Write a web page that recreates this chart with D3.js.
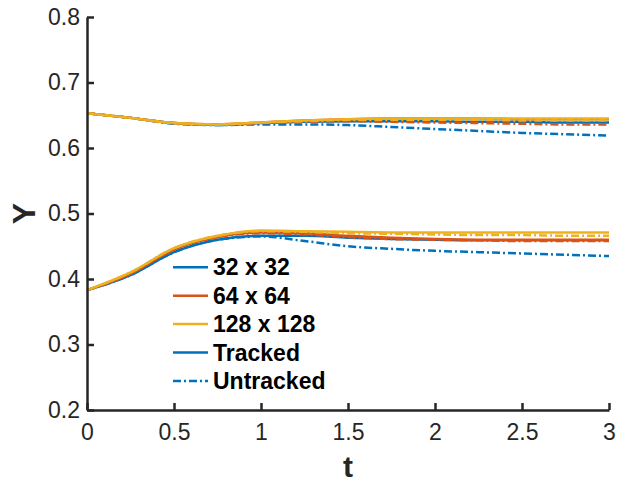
<!DOCTYPE html>
<html>
<head>
	<script type="text/javascript" src="https://cdn.jsdelivr.net/npm/d3@7/dist/d3.min.js"></script>
	<style type="text/css">
		body { margin: 0; background: #fff; }
		text { font-family: "Liberation Sans", Arial, Helvetica, sans-serif; fill: #262626; }
		.axis path, .axis line { stroke: #262626; stroke-width: 2.5px; }
		.series { fill: none; stroke-width: 2.5px; }
	</style>
</head>
<body>
<script type="text/javascript">

var width = 621,
	height = 482;

var tValues = [0, 0.25, 0.5, 0.75, 1, 1.25, 1.5, 1.75, 2, 2.25, 2.5, 2.75, 3];
var xTicks = [0, 0.5, 1, 1.5, 2, 2.5, 3];
var yTicks = [0.2, 0.3, 0.4, 0.5, 0.6, 0.7, 0.8];

// upper branch
var upper32Tracked    = [0.653, 0.646, 0.638, 0.635, 0.638, 0.640, 0.641, 0.641, 0.641, 0.640, 0.640, 0.639, 0.639];
var upper32Untracked  = [0.653, 0.646, 0.637, 0.635, 0.636, 0.636, 0.635, 0.632, 0.629, 0.626, 0.623, 0.621, 0.619];
var upper64Tracked    = [0.653, 0.646, 0.638, 0.636, 0.639, 0.642, 0.644, 0.645, 0.645, 0.645, 0.644, 0.644, 0.644];
var upper64Untracked  = [0.653, 0.646, 0.638, 0.636, 0.638, 0.640, 0.641, 0.640, 0.639, 0.638, 0.637, 0.636, 0.636];
var upper128Tracked   = [0.653, 0.646, 0.638, 0.636, 0.639, 0.642, 0.644, 0.645, 0.645, 0.645, 0.645, 0.645, 0.645];
var upper128Untracked = [0.653, 0.646, 0.638, 0.636, 0.639, 0.641, 0.643, 0.643, 0.643, 0.643, 0.642, 0.642, 0.642];

// lower branch
var lower32Tracked    = [0.383, 0.406, 0.441, 0.460, 0.466, 0.466, 0.463, 0.461, 0.460, 0.459, 0.459, 0.459, 0.459];
var lower32Untracked  = [0.383, 0.406, 0.441, 0.460, 0.465, 0.458, 0.450, 0.446, 0.443, 0.441, 0.439, 0.437, 0.435];
var lower64Tracked    = [0.383, 0.408, 0.445, 0.464, 0.471, 0.470, 0.466, 0.463, 0.461, 0.460, 0.460, 0.460, 0.460];
var lower64Untracked  = [0.383, 0.408, 0.445, 0.464, 0.470, 0.468, 0.464, 0.461, 0.460, 0.459, 0.458, 0.458, 0.458];
var lower128Tracked   = [0.383, 0.410, 0.447, 0.466, 0.474, 0.473, 0.472, 0.471, 0.471, 0.471, 0.471, 0.471, 0.471];
var lower128Untracked = [0.383, 0.410, 0.447, 0.466, 0.473, 0.472, 0.470, 0.469, 0.468, 0.467, 0.467, 0.466, 0.466];

var legendLabels = ["32 x 32", "64 x 64", "128 x 128", "Tracked", "Untracked"];

var blue = "#0072BD", orange = "#D95319", yellow = "#EDB120";
var dashDot = "8,3,2,3";

var series = [
	{ values: upper32Tracked, color: blue, dash: null },
	{ values: upper32Untracked, color: blue, dash: dashDot },
	{ values: lower32Tracked, color: blue, dash: null },
	{ values: lower32Untracked, color: blue, dash: dashDot },
	{ values: upper64Tracked, color: orange, dash: null },
	{ values: upper64Untracked, color: orange, dash: dashDot },
	{ values: lower64Tracked, color: orange, dash: null },
	{ values: lower64Untracked, color: orange, dash: dashDot },
	{ values: upper128Tracked, color: yellow, dash: null },
	{ values: upper128Untracked, color: yellow, dash: dashDot },
	{ values: lower128Tracked, color: yellow, dash: null },
	{ values: lower128Untracked, color: yellow, dash: dashDot }
];

var legendStyles = [
	{ color: blue, dash: null },
	{ color: orange, dash: null },
	{ color: yellow, dash: null },
	{ color: blue, dash: null },
	{ color: blue, dash: dashDot }
];

var x = d3.scaleLinear().domain([0, 3]).range([87, 609]);
var y = d3.scaleLinear().domain([0.2, 0.8]).range([410, 17]);

var svg = d3.select("body").append("svg")
	.attr("width", width)
	.attr("height", height);

var line = d3.line()
	.x(function(d, i) { return x(tValues[i]); })
	.y(function(d) { return y(d); })
	.curve(d3.curveMonotoneX);

svg.append("g").selectAll("path")
	.data(series)
  .enter().append("path")
	.attr("class", "series")
	.attr("d", function(s) { return line(s.values); })
	.attr("stroke", function(s) { return s.color; })
	.attr("stroke-dasharray", function(s) { return s.dash; });

svg.append("g")
	.attr("class", "axis")
	.attr("transform", "translate(0," + y(0.2) + ")")
	.call(d3.axisBottom(x).tickValues(xTicks).tickFormat(d3.format("")).tickSizeInner(-7).tickSizeOuter(0).tickPadding(14));

svg.append("g")
	.attr("class", "axis")
	.attr("transform", "translate(" + x(0) + ",0)")
	.call(d3.axisLeft(y).tickValues(yTicks).tickFormat(d3.format(".1f")).tickSizeInner(-7).tickSizeOuter(0).tickPadding(7));

svg.selectAll(".axis text")
	.attr("font-family", null)
	.attr("fill", "#262626")
	.style("font-size", "23px");

// axis titles
svg.append("text")
	.attr("x", (x(0) + x(3)) / 2)
	.attr("y", 477)
	.attr("text-anchor", "middle")
	.style("font-size", "30px")
	.style("font-weight", "bold")
	.text("t");

svg.append("text")
	.attr("transform", "translate(35," + ((y(0.2) + y(0.8)) / 2) + ") rotate(-90)")
	.attr("text-anchor", "middle")
	.style("font-size", "32px")
	.style("font-weight", "bold")
	.text("Y");

// legend
var legend = svg.append("g").selectAll("g")
	.data(legendLabels)
  .enter().append("g")
	.attr("transform", function(d, i) { return "translate(173," + (267.3 + i * 28.4) + ")"; });

legend.append("line")
	.attr("x1", 0)
	.attr("x2", 35)
	.attr("stroke-width", 2.5)
	.attr("stroke", function(d, i) { return legendStyles[i].color; })
	.attr("stroke-dasharray", function(d, i) { return legendStyles[i].dash; });

legend.append("text")
	.attr("x", 40)
	.attr("y", 8)
	.style("font-size", "23px")
	.style("font-weight", "bold")
	.style("fill", "#000")
	.text(function(d) { return d; });

</script>
</body>
</html>
